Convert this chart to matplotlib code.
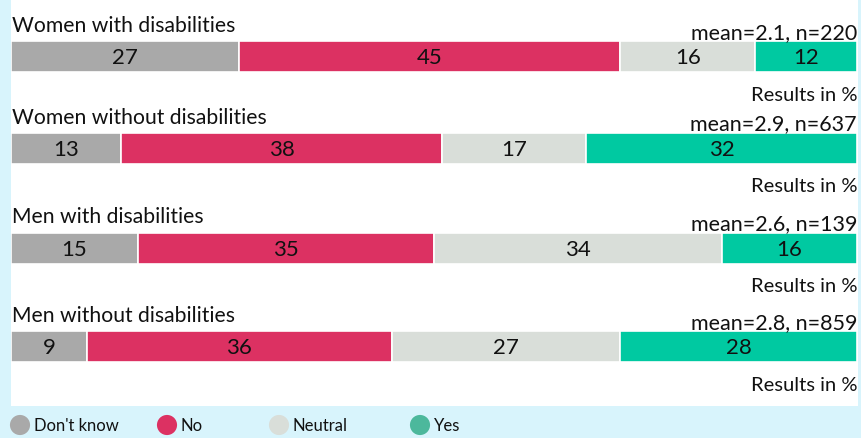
import numpy as np
import matplotlib.pyplot as plt
from matplotlib.patches import Rectangle

plt.rcParams['font.family'] = ['Lato', 'DejaVu Sans']

# survey results in %, one list per answer
groups = ['Women with disabilities', 'Women without disabilities',
          'Men with disabilities', 'Men without disabilities']
dont_know = [27, 13, 15, 9]
no = [45, 38, 35, 36]
neutral = [16, 17, 34, 27]
yes = [12, 32, 16, 28]
means = [2.1, 2.9, 2.6, 2.8]
counts = [220, 637, 139, 859]

answers = ["Don't know", 'No', 'Neutral', 'Yes']
bar_colors = ['#a9a9a9', '#dc3162', '#d9ded9', '#00c9a1']
legend_colors = ['#a9a9a9', '#dc3162', '#d9ded9', '#4cb89c']

W, H = 861, 439
fig = plt.figure(figsize=(W / 100, H / 100), dpi=100)
fig.patch.set_facecolor('#d8f4fc')
# white panel behind the bars
fig.patches.append(Rectangle((11 / W, (H - 407) / H), 847 / W, 407 / H,
                             transform=fig.transFigure, facecolor='white',
                             edgecolor='none', zorder=-5))

# axes in pixel-like units: y grows downward
ax = fig.add_axes([11 / W, (H - 407) / H, 846 / W, 407 / H])
ax.set_xlim(0, 100)
ax.set_ylim(407, 0)
ax.axis('off')
ax.patch.set_alpha(0)

centers = [57.5, 149, 249, 347.5]
bar_h = 31

series = [dont_know, no, neutral, yes]
for i, g in enumerate(groups):
    left = 0
    for vals, col in zip(series, bar_colors):
        v = vals[i]
        ax.barh(centers[i], v, left=left, height=bar_h, color=col,
                edgecolor='white', linewidth=1.2)
        ax.text(left + v / 2, centers[i] + 1, str(v), ha='center', va='center',
                fontsize=16, color='#111111')
        left += v
    top = centers[i] - bar_h / 2
    bottom = centers[i] + bar_h / 2
    ax.text(0.1, top - 10, g, ha='left', va='baseline', fontsize=15.2, color='#111111')
    ax.text(100, top - 3, f'mean={means[i]}, n={counts[i]}', ha='right',
            va='baseline', fontsize=15.5, color='#111111')
    ax.text(100, bottom + 28, 'Results in %', ha='right', va='baseline',
            fontsize=14.5, color='#111111')

# legend strip along the bottom
lax = fig.add_axes([0, 0, 1, (H - 407) / H])
lax.set_xlim(0, W)
lax.set_ylim(32, 0)
lax.axis('off')
lax.patch.set_alpha(0)
dot_x = [20, 167, 279, 420]
for x, lab, col in zip(dot_x, answers, legend_colors):
    lax.scatter([x], [19], s=210, color=col, edgecolor='none', clip_on=False)
    lax.text(x + 14, 19.5, lab, ha='left', va='center', fontsize=12, color='#111111')

fig.savefig('out.png', dpi=100, facecolor=fig.get_facecolor())
